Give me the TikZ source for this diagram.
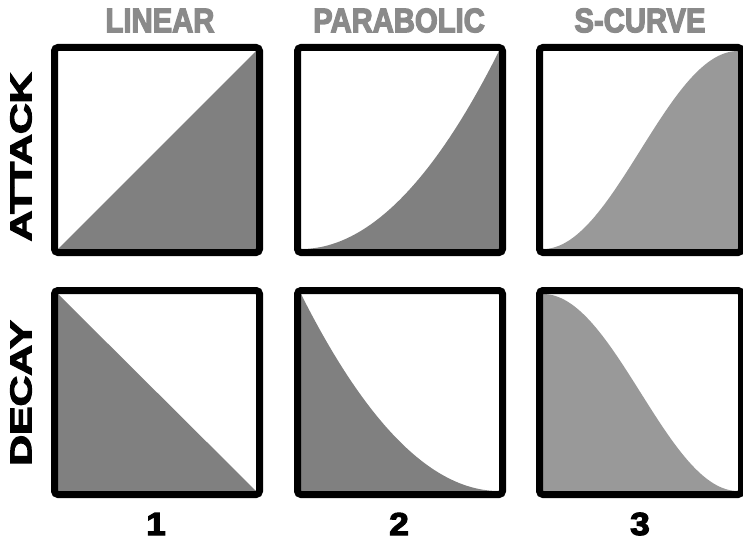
\documentclass[tikz,border=0pt]{standalone}
\usepackage{fontspec}
\setmainfont{Liberation Sans}
\newfontfamily\heavyfont[FakeBold=3.5]{Liberation Sans Bold}
\newfontfamily\headfont[FakeBold=4]{Liberation Sans Bold}
\definecolor{fillA}{HTML}{808080}
\definecolor{fillS}{HTML}{999999}
\definecolor{headgray}{HTML}{8A8A8A}
\begin{document}
\begin{tikzpicture}[x=1pt,y=1pt,
  panel/.style={draw=black,line width=7pt,rounded corners=3.5pt,inner sep=0pt,
    minimum width=#1,minimum height=205pt},
  panel/.default=205pt,
  header/.style={text=headgray,font=\headfont\fontsize{34}{34}\selectfont,inner sep=0pt},
  rowlabel/.style={text=black,font=\heavyfont\fontsize{30}{30}\selectfont,inner sep=0pt,rotate=90},
  numlabel/.style={text=black,font=\heavyfont\fontsize{32}{32}\selectfont,inner sep=0pt}]
\useasboundingbox (0,0) rectangle (743,542);
% inner regions: cols x: 58-256, 301-499, 543-738 ; rows Y: 293-491, 51-248
% ---- top row fills (attack)
\fill[fillA] (58,293) -- (256,491) -- (258,491) -- (258,291) -- (56,291) -- cycle;
\fill[fillA] plot[domain=0:1,samples=80] ({301+198*\x},{293+198*\x*\x}) -- (501,491) -- (501,291) -- (299,291) -- cycle;
\fill[fillS] plot[domain=0:1,samples=80] ({543+195*\x},{293+198*(1-cos(180*\x))/2}) -- (740,491) -- (740,291) -- (541,291) -- cycle;
% ---- bottom row fills (decay)
\fill[fillA] (58,248) -- (256,51) -- (256,49) -- (56,49) -- (56,248) -- cycle;
\fill[fillA] plot[domain=0:1,samples=80] ({301+198*\x},{51+197*(1-\x)*(1-\x)}) -- (501,49) -- (299,49) -- (299,248) -- cycle;
\fill[fillS] plot[domain=0:1,samples=80] ({543+195*\x},{51+197*(1+cos(180*\x))/2}) -- (740,49) -- (541,49) -- (541,248) -- cycle;
% ---- panel borders
\node[panel=205pt] (a1) at (157,392) {};
\node[panel=205pt] (a2) at (400,392) {};
\node[panel=202pt] (a3) at (640.5,392) {};
\node[panel=205pt,minimum height=204pt] (d1) at (157,149.5) {};
\node[panel=205pt,minimum height=204pt] (d2) at (400,149.5) {};
\node[panel=202pt,minimum height=204pt] (d3) at (640.5,149.5) {};
% ---- headers
\node[header] (hl) at (160,521.5) {\scalebox{0.86}[1]{LINEAR}};
\node[header] (hp) at (399,521.5) {\scalebox{0.86}[1]{PARABOLIC}};
\node[header] (hs) at (640,521.5) {\scalebox{0.86}[1]{S-CURVE}};
% ---- row labels
\node[rowlabel] (ra) at (21,385) {\scalebox{1.42}[1]{ATTACK}};
\node[rowlabel] (rd) at (21,149) {\scalebox{1.42}[1]{DECAY}};
% ---- column numbers
\node[numlabel] (n1) at (156,18) {\scalebox{1.1}[1]{1}};
\node[numlabel] (n2) at (399,18) {\scalebox{1.1}[1]{2}};
\node[numlabel] (n3) at (640,18) {\scalebox{1.1}[1]{3}};
\end{tikzpicture}
\end{document}
